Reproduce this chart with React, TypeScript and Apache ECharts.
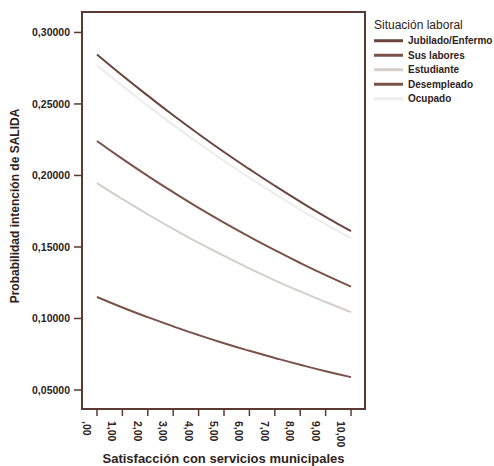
import React, { useEffect, useRef } from "react";
import * as echarts from "echarts";

const xValues = [0, 1, 2, 3, 4, 5, 6, 7, 8, 9, 10];
const xTicks = [0, 1, 2, 3, 4, 5, 6, 7, 8, 9, 10];
const yTicks = [0.05, 0.1, 0.15, 0.2, 0.25, 0.3];

const seriesNames = ["Jubilado/Enfermo", "Sus labores", "Estudiante", "Desempleado", "Ocupado"];

const jubilado = [0.2846, 0.2699, 0.2558, 0.2421, 0.229, 0.2164, 0.2044, 0.1928, 0.1817, 0.1711, 0.161];
const susLabores = [0.2241, 0.2116, 0.1997, 0.1883, 0.1774, 0.167, 0.1572, 0.1478, 0.1388, 0.1303, 0.1223];
const estudiante = [0.1947, 0.1835, 0.1728, 0.1626, 0.1529, 0.1437, 0.135, 0.1267, 0.1189, 0.1115, 0.1044];
const desempleado = [0.115, 0.1077, 0.1009, 0.0945, 0.0884, 0.0827, 0.0774, 0.0724, 0.0676, 0.0631, 0.059];
const ocupado = [0.2771, 0.2627, 0.2488, 0.2354, 0.2225, 0.2102, 0.1984, 0.1871, 0.1762, 0.1659, 0.156];

const seriesValues = [jubilado, susLabores, estudiante, desempleado, ocupado];
const seriesColors = ["#6a463e", "#7b5249", "#d6cdcd", "#7b5249", "#eeebeb"];

const xTitle = "Satisfacción con servicios municipales";
const yTitle = "Probabilidad intención de SALIDA";

const FRAME = "#5a3a32";
const TEXT = "#2e2220";
const FONT = "Liberation Sans, Arial, sans-serif";

const X_MIN = -0.59;
const X_MAX = 10.55;
const Y_MIN = 0.0367;
const Y_MAX = 0.3143;

export default function App() {
  const ref = useRef<HTMLDivElement>(null);

  useEffect(() => {
    document.body.style.margin = "0";
    if (!ref.current) return;
    const chart = echarts.init(ref.current, null, { renderer: "svg" });

    const series: any[] = seriesNames.map((name, i) => ({
      name,
      type: "line",
      smooth: true,
      showSymbol: false,
      symbol: "none",
      data: xValues.map((x, j) => [x, seriesValues[i][j]]),
      lineStyle: { color: seriesColors[i], width: 2 },
      itemStyle: { color: seriesColors[i] },
      z: i === 4 ? 1 : 2,
    }));

    chart.setOption({
      animation: false,
      textStyle: { fontFamily: FONT },
      title: {
        text: "Situación laboral",
        left: 374,
        top: 19,
        padding: 0,
        textStyle: { fontSize: 12, fontWeight: "normal", color: TEXT, fontFamily: FONT },
      },
      legend: {
        orient: "vertical",
        left: 374,
        top: 35,
        padding: 0,
        itemWidth: 29,
        itemHeight: 3,
        itemGap: 3,
        icon: "rect",
        data: seriesNames,
        textStyle: { fontSize: 10, fontWeight: "bold", color: TEXT, lineHeight: 11.5, fontFamily: FONT },
      },
      grid: {
        left: 82,
        top: 12,
        width: 283,
        height: 397,
        show: true,
        borderColor: FRAME,
        borderWidth: 2,
        backgroundColor: "transparent",
        containLabel: false,
        outerBoundsMode: "none",
      },
      xAxis: {
        type: "value",
        min: X_MIN,
        max: X_MAX,
        axisLine: { show: false, onZero: false },
        splitLine: { show: false },
        axisTick: { show: false },
        axisLabel: {
          customValues: xTicks,
          rotate: -90,
          margin: 12,
          fontSize: 10.5,
          fontWeight: "bold",
          color: TEXT,
          fontFamily: FONT,
          align: "left",
          verticalAlign: "top",
          lineHeight: 20,
          formatter: (v: number) => (v === 0 ? ",00" : v.toFixed(2).replace(".", ",")),
        },
      },
      yAxis: {
        type: "value",
        min: Y_MIN,
        max: Y_MAX,
        name: yTitle,
        nameLocation: "middle",
        nameGap: 57,
        nameTextStyle: {
          fontSize: 12,
          fontWeight: "bold",
          color: TEXT,
          fontFamily: FONT,
          padding: [0, 0, 0, 9],
        },
        axisLine: { show: false, onZero: false },
        splitLine: { show: false },
        axisTick: { show: false },
        axisLabel: {
          customValues: yTicks,
          margin: 12,
          fontSize: 10.5,
          fontWeight: "bold",
          color: TEXT,
          fontFamily: FONT,
          formatter: (v: number) => v.toFixed(5).replace(".", ","),
        },
      },
      series,
    });

    // tick marks and x title placed through the axes' own scales
    const left = chart.convertToPixel({ xAxisIndex: 0 }, X_MIN) as number;
    const right = chart.convertToPixel({ xAxisIndex: 0 }, X_MAX) as number;
    const bottom = chart.convertToPixel({ yAxisIndex: 0 }, Y_MIN) as number;
    const elements: any[] = [];
    xTicks.forEach((v) => {
      const px = chart.convertToPixel({ xAxisIndex: 0 }, v) as number;
      elements.push({
        type: "line",
        silent: true,
        z: 20,
        shape: { x1: px, y1: bottom, x2: px, y2: bottom + 7 },
        style: { stroke: FRAME, lineWidth: 1.5 },
      });
    });
    yTicks.forEach((v) => {
      const py = chart.convertToPixel({ yAxisIndex: 0 }, v) as number;
      elements.push({
        type: "line",
        silent: true,
        z: 20,
        shape: { x1: left - 8, y1: py, x2: left, y2: py },
        style: { stroke: FRAME, lineWidth: 1.5 },
      });
    });
    elements.push({
      type: "text",
      silent: true,
      z: 20,
      x: (left + right) / 2,
      y: bottom + 49,
      style: {
        text: xTitle,
        fill: TEXT,
        font: `bold 13px ${FONT}`,
        textAlign: "center",
        textVerticalAlign: "middle",
      },
    });
    chart.setOption({ graphic: elements });

    return () => chart.dispose();
  }, []);

  return <div ref={ref} style={{ width: 494, height: 466 }} />;
}
